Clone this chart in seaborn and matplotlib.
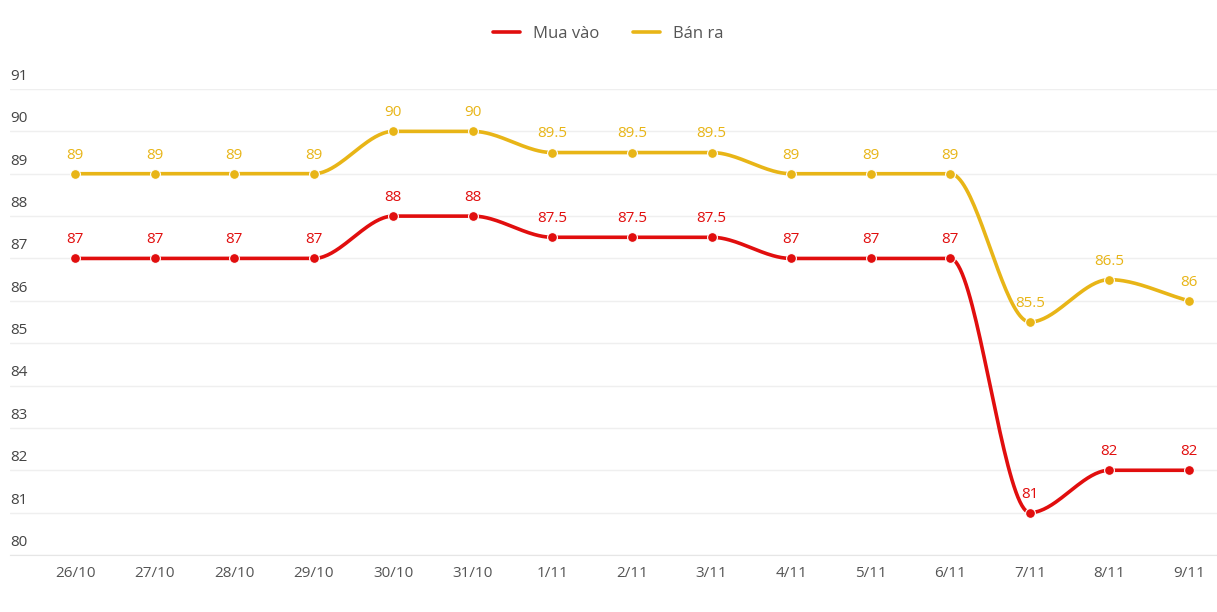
import numpy as np
import pandas as pd
import matplotlib
matplotlib.use('Agg')
import matplotlib.pyplot as plt
import seaborn as sns

# data
dates = ['26/10', '27/10', '28/10', '29/10', '30/10', '31/10', '1/11', '2/11',
         '3/11', '4/11', '5/11', '6/11', '7/11', '8/11', '9/11']
mua_vao = [87, 87, 87, 87, 88, 88, 87.5, 87.5, 87.5, 87, 87, 87, 81, 82, 82]
ban_ra = [89, 89, 89, 89, 90, 90, 89.5, 89.5, 89.5, 89, 89, 89, 85.5, 86.5, 86]
yticks = list(range(80, 92))

RED = '#e10e0e'
GOLD = '#e8b517'


def smooth(y, n=40):
    # monotone cubic (Fritsch-Carlson) for the rounded line look
    y = np.asarray(y, float)
    x = np.arange(len(y), dtype=float)
    d = np.diff(y)
    m = np.zeros(len(y))
    m[0], m[-1] = d[0], d[-1]
    for i in range(1, len(y) - 1):
        if d[i - 1] * d[i] > 0:
            m[i] = 2 / (1 / d[i - 1] + 1 / d[i])
    xs, ys = [], []
    for i in range(len(y) - 1):
        t = np.linspace(0, 1, n, endpoint=False)
        h00 = 2 * t**3 - 3 * t**2 + 1
        h10 = t**3 - 2 * t**2 + t
        h01 = -2 * t**3 + 3 * t**2
        h11 = t**3 - t**2
        xs.append(x[i] + t)
        ys.append(h00 * y[i] + h10 * m[i] + h01 * y[i + 1] + h11 * m[i + 1])
    xs.append([x[-1]])
    ys.append([y[-1]])
    return np.concatenate(xs), np.concatenate(ys)


sns.set_style('white')
plt.rcParams['font.family'] = ['Open Sans', 'DejaVu Sans']

fig = plt.figure(figsize=(12.17, 6.12), dpi=100)
ax = fig.add_axes([10 / 1217, 57 / 612, 1207 / 1217, 466 / 612])

for name, vals, col in [('Mua vào', mua_vao, RED), ('Bán ra', ban_ra, GOLD)]:
    xs, ys = smooth(vals)
    sns.lineplot(x=xs, y=ys, ax=ax, color=col, linewidth=2.6, label=name,
                 estimator=None, sort=False)
    sns.scatterplot(x=np.arange(len(vals)), y=vals, ax=ax, color=col, s=50,
                    edgecolor='white', linewidth=0.8, zorder=5, legend=False)
    for i, v in enumerate(vals):
        ax.annotate(f'{v:g}', (i, v), xytext=(0, 8), textcoords='offset points',
                    ha='center', va='bottom', fontsize=11, color=col)

ax.set_xlim(-65 / 79.57, 14 + 28 / 79.57)
ax.set_ylim(80, 91)
ax.set_yticks(yticks)
ax.set_yticklabels([])
ax.tick_params(axis='y', length=0)
ax.grid(axis='y', color='#efefef', linewidth=1)
for y in yticks:
    ax.text(0, y + 0.12, str(y), transform=ax.get_yaxis_transform(),
            ha='left', va='bottom', fontsize=11, color='#444444')

ax.set_xticks(range(len(dates)))
ax.set_xticklabels(dates, fontsize=11, color='#555555')
ax.tick_params(axis='x', length=0, pad=8)
for s in ['top', 'right', 'left']:
    ax.spines[s].set_visible(False)
ax.spines['bottom'].set_color('#e6e6e6')

ax.get_legend().remove()
h, l = ax.get_legend_handles_labels()
fig.legend(h, l, loc='center', bbox_to_anchor=(0.5, 1 - 34 / 612), ncol=2,
           frameon=False, fontsize=12, handlelength=1.6, columnspacing=2.0,
           labelcolor='#555555')

fig.savefig('out.png', dpi=100)
